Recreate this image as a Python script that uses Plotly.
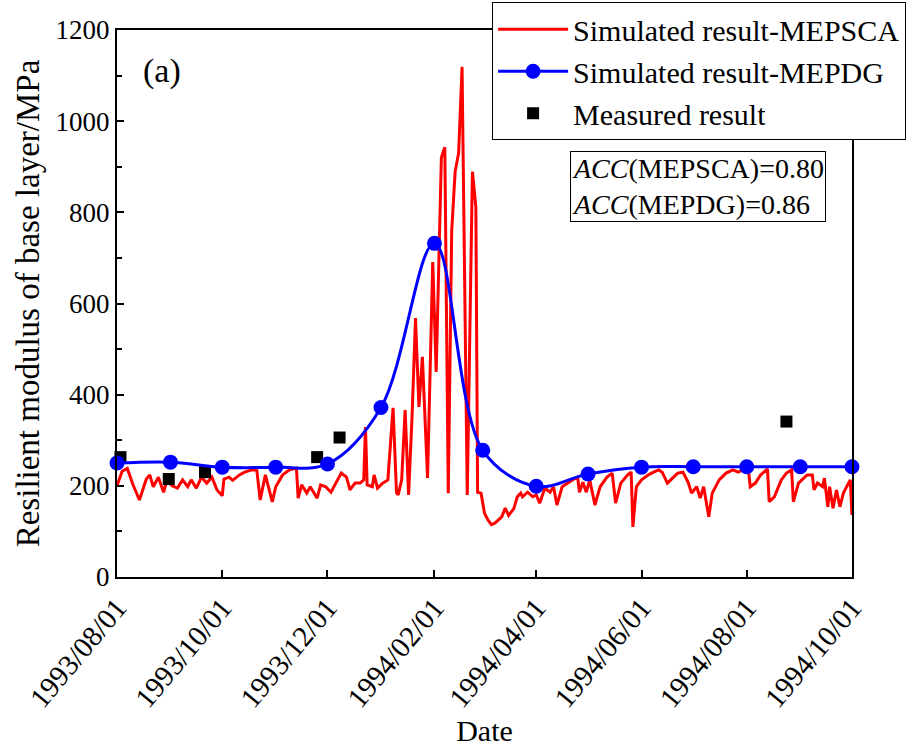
import pandas as pd
import plotly.graph_objects as go

START = pd.Timestamp("1993-08-01")

# Simulated result (MEPSCA): day offset from 1993-08-01 and modulus (MPa)
mepsca_day = [
    0, 3, 6, 9, 13, 17, 19, 21, 24, 27, 29, 32, 35, 38, 41, 43, 46, 49, 52, 55,
    58, 61, 62, 65, 67, 71, 74, 78, 81, 83, 85, 86, 90, 92, 96, 100, 104, 105,
    107, 110, 112, 116, 118, 121, 124, 127, 130, 133, 135, 138, 141, 143, 144,
    145, 148, 149, 151, 154, 157, 160, 162, 163, 165, 167, 169, 171, 173, 175,
    177, 180, 183, 185, 188, 190, 192, 194, 196, 198, 200, 203, 206, 208, 209,
    211, 213, 215, 217, 219, 221, 223, 225, 227, 228, 230, 232, 234, 235, 238,
    241, 243, 245, 248, 251, 253, 255, 258, 264, 267, 268, 270, 272, 274, 277,
    280, 284, 287, 289, 292, 296, 298, 299, 301, 304, 308, 311, 314, 316, 319,
    322, 325, 328, 331, 333, 336, 338, 340, 343, 345, 349, 353, 357, 360, 364,
    366, 367, 370, 373, 377, 378, 381, 385, 388, 391, 392, 395, 397, 400, 403,
    404, 406, 409, 410, 412, 413, 415, 417, 419, 421, 423, 425, 426,
]
mepsca_val = [
    200, 232, 238, 205, 169, 215, 224, 198, 219, 186, 213, 200, 195, 213, 198, 213, 195, 219, 206, 219,
    191, 178, 215, 219, 212, 224, 230, 235, 235, 169, 206, 224, 165, 198, 224, 235, 239, 173,
    202, 184, 198, 173, 202, 198, 186, 208, 228, 219, 191, 206, 206, 213, 329,
    202, 198, 224, 195, 206, 213, 371, 185, 180, 213, 366, 180, 351, 568, 373,
    483, 217, 691, 450, 920, 943, 184, 760, 890, 930, 1119, 180, 889, 812, 186,
    184, 140, 125, 115, 118, 125, 132, 151, 135, 140, 150, 176, 184, 176, 186,
    176, 180, 162, 195, 186, 198, 158, 198, 213, 219, 186, 208, 186, 213, 158,
    198, 219, 228, 162, 206, 224, 230, 110, 198, 213, 224, 230, 235, 230, 206,
    217, 228, 230, 208, 184, 198, 173, 198, 132, 184, 213, 228, 235, 230, 237,
    235, 198, 206, 224, 237, 165, 176, 213, 228, 235, 165, 206, 213, 224, 224,
    191, 206, 198, 217, 154, 198, 151, 191, 154, 184, 198, 213, 136,
]

# Simulated result (MEPDG): monthly values
mepdg_date = [
    "1993-08-01", "1993-09-01", "1993-10-01", "1993-11-01", "1993-12-01",
    "1994-01-01", "1994-02-01", "1994-03-01", "1994-04-01", "1994-05-01",
    "1994-06-01", "1994-07-01", "1994-08-01", "1994-09-01", "1994-10-01",
]
mepdg_val = [250, 252, 241, 241, 248, 372, 732, 278, 199, 226, 241, 242, 242, 242, 242]

# Measured modulus
meas_date = ["1993-08-03", "1993-08-31", "1993-09-21", "1993-11-25", "1993-12-08", "1994-08-24"]
meas_val = [263, 215, 230, 263, 306, 341]

tick_dates = [
    "1993-08-01", "1993-10-01", "1993-12-01", "1994-02-01",
    "1994-04-01", "1994-06-01", "1994-08-01", "1994-10-01",
]

FONT = "Liberation Serif, Times New Roman, serif"

mepsca_x = [START + pd.Timedelta(days=d) for d in mepsca_day]

fig = go.Figure()
fig.add_trace(go.Scatter(
    x=mepsca_x, y=mepsca_val, mode="lines", name="Simulated result-MEPSCA",
    line=dict(color="#ff0000", width=3), legendrank=1,
))
fig.add_trace(go.Scatter(
    x=pd.to_datetime(meas_date), y=meas_val, mode="markers", name="Measured result",
    marker=dict(symbol="square", size=12, color="black"), legendrank=3,
    cliponaxis=False,
))
fig.add_trace(go.Scatter(
    x=pd.to_datetime(mepdg_date), y=mepdg_val, mode="lines+markers",
    name="Simulated result-MEPDG",
    line=dict(color="#0000ff", width=3, shape="spline", smoothing=1.0),
    marker=dict(size=15, color="#0000ff"), legendrank=2, cliponaxis=False,
))

fig.update_layout(
    width=907, height=750,
    margin=dict(l=117, r=55, t=30, b=173, autoexpand=False),
    plot_bgcolor="white", paper_bgcolor="white",
    font=dict(family=FONT, color="black", size=27),
    showlegend=True,
    legend=dict(
        xref="container", yref="container", x=0.999, y=0.997,
        xanchor="right", yanchor="top",
        bordercolor="black", borderwidth=1, bgcolor="white",
        font=dict(size=30, family=FONT), itemwidth=70,
        tracegroupgap=0,
    ),
    xaxis=dict(
        type="date",
        range=["1993-08-01", "1994-10-01"],
        tickvals=pd.to_datetime(tick_dates), tickformat="%Y/%m/%d",
        tickangle=-50, ticks="inside", ticklen=7, tickwidth=1.5, tickcolor="black",
        showline=True, linecolor="black", linewidth=2, mirror=True,
        showgrid=False, zeroline=False,
        tickfont=dict(size=29),
        title=dict(text="Date", font=dict(size=30), standoff=4),
    ),
    yaxis=dict(
        range=[0, 1200], tickvals=[0, 200, 400, 600, 800, 1000, 1200],
        ticks="inside", ticklen=7, tickwidth=1.5, tickcolor="black",
        minor=dict(tickvals=[100, 300, 500, 700, 900, 1100], ticks="inside",
                   ticklen=5, tickwidth=1.5, tickcolor="black"),
        showline=True, linecolor="black", linewidth=2, mirror=True,
        showgrid=False, zeroline=False,
        tickfont=dict(size=27),
        title=dict(text="Resilient modulus of base layer/MPa", font=dict(size=33), standoff=6),
    ),
)

fig.add_annotation(
    xref="paper", yref="paper", x=0.033, y=0.925, xanchor="left", yanchor="middle",
    text="(a)", showarrow=False, font=dict(size=34),
)
fig.add_annotation(
    xref="paper", yref="paper", x=0.79, y=0.713, xanchor="center", yanchor="middle",
    text="<i>ACC</i>(MEPSCA)=0.80<br><i>ACC</i>(MEPDG)=0.86",
    align="left", showarrow=False, font=dict(size=28),
    bordercolor="black", borderwidth=1, borderpad=1, bgcolor="white",
)

fig.write_html("out.html")
